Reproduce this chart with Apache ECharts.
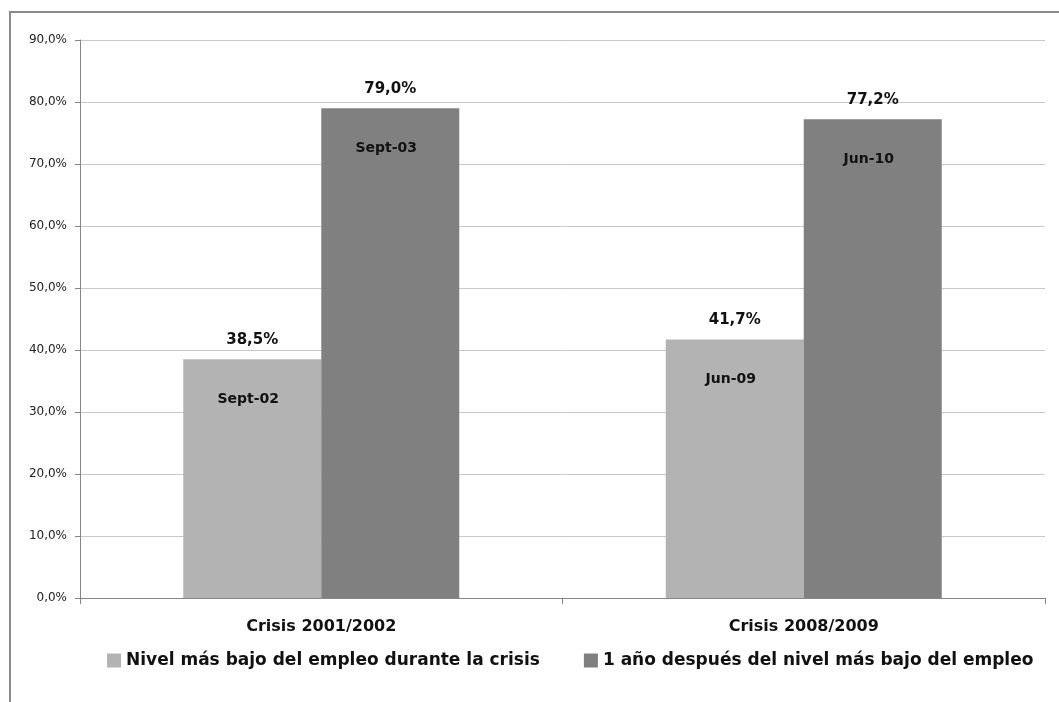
<!DOCTYPE html>
<html>
<head>
<meta charset="utf-8">
<script src="https://cdn.jsdelivr.net/npm/echarts@6/dist/echarts.min.js"></script>
<style>
  html, body { margin: 0; padding: 0; background: #fff; }
  #chart { width: 1059px; height: 702px; }
</style>
</head>
<body>
<div id="chart"></div>
<script>
// datos del grafico
var categorias = ['Crisis 2001/2002', 'Crisis 2008/2009'];
var nombresSeries = ['Nivel más bajo del empleo durante la crisis', '1 año después del nivel más bajo del empleo'];
var nivelBajo = [38.5, 41.7];
var unAnioDespues = [79.0, 77.2];
var fechasBajo = ['Sept-02', 'Jun-09'];
var fechasDespues = ['Sept-03', 'Jun-10'];

var fuente = '"DejaVu Sans", "Open Sans", sans-serif';

function pct(v) {
  return v.toFixed(1).replace('.', ',') + '%';
}

// etiqueta de fecha dentro de la barra (markPoint en la cima)
function marcas(valores, fechas) {
  return valores.map(function (v, i) {
    return { coord: [i, v], value: fechas[i] };
  });
}

function serie(nombre, valores, fechas, color) {
  return {
    name: nombre,
    type: 'bar',
    data: valores,
    barWidth: 138,
    barGap: '0%',
    itemStyle: { color: color },
    label: {
      show: true,
      position: 'top',
      distance: 12,
      fontFamily: fuente,
      fontWeight: 'bold',
      fontSize: 15,
      color: '#111',
      formatter: function (p) { return pct(p.value); }
    },
    markPoint: {
      symbol: 'rect',
      symbolSize: 1,
      itemStyle: { color: 'rgba(0,0,0,0)' },
      label: {
        show: true,
        position: 'inside',
        offset: [-4, 40],
        fontFamily: fuente,
        fontWeight: 'bold',
        fontSize: 14,
        color: '#111',
        formatter: function (p) { return p.value; }
      },
      data: marcas(valores, fechas)
    }
  };
}

var chart = echarts.init(document.getElementById('chart'));

var option = {
  animation: false,
  backgroundColor: '#fff',
  grid: { left: 80, right: 14, top: 40, bottom: 104 },
  legend: {
    bottom: 28,
    left: 102,
    itemWidth: 14,
    itemHeight: 14,
    itemGap: 44,
    itemStyle: { borderWidth: 0 },
    icon: 'rect',
    textStyle: { fontFamily: fuente, fontWeight: 'bold', fontSize: 17, color: '#111' },
    data: nombresSeries
  },
  graphic: [{
    type: 'polyline',
    shape: { points: [[10, 702], [10, 12], [1059, 12]] },
    style: { stroke: '#8a8a8a', lineWidth: 2, fill: null },
    silent: true
  }],
  xAxis: {
    type: 'category',
    data: categorias,
    axisLine: { lineStyle: { color: '#868686' } },
    axisTick: { show: true, length: 6, alignWithLabel: false, lineStyle: { color: '#868686' } },
    axisLabel: {
      margin: 21,
      fontFamily: fuente,
      fontWeight: 'bold',
      fontSize: 16,
      color: '#111'
    }
  },
  yAxis: {
    type: 'value',
    min: 0,
    max: 90,
    interval: 10,
    axisLine: { show: true, lineStyle: { color: '#868686' } },
    axisTick: { show: true, length: 5, lineStyle: { color: '#868686' } },
    splitLine: { lineStyle: { color: '#c8c8c8' } },
    axisLabel: {
      margin: 13,
      fontFamily: fuente,
      fontSize: 12,
      color: '#222',
      formatter: function (v) { return pct(v); }
    }
  },
  series: [
    serie(nombresSeries[0], nivelBajo, fechasBajo, '#b3b3b3'),
    serie(nombresSeries[1], unAnioDespues, fechasDespues, '#808080')
  ]
};

chart.setOption(option);
</script>
</body>
</html>
